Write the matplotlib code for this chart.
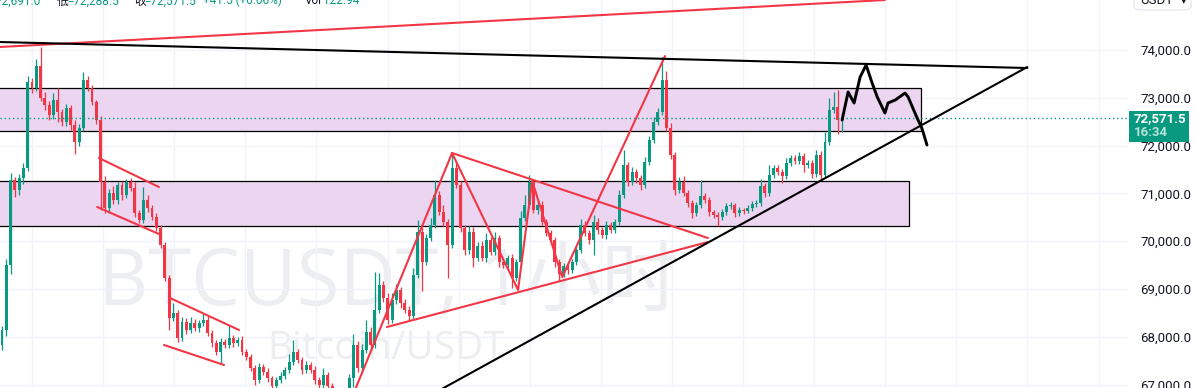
import matplotlib
matplotlib.use("Agg")
import matplotlib.pyplot as plt
from matplotlib.patches import Rectangle, FancyBboxPatch

# ---- data (1h candles, BTCUSDT) ----
first_open = 67830
close = [
    68140, 69500, 71280, 71070, 71320, 71530, 73330, 73200, 73670, 73000,
    72850, 72640, 72950, 72700, 72490, 72790, 72430, 72080, 72370, 73370,
    73200, 72910, 72540, 71240, 70700, 71010, 70860, 71180, 70970, 71240,
    71110, 70590, 70440, 70860, 70700, 70510, 70280, 69920, 69230, 68390,
    68500, 67980, 68310, 68140, 68290, 68180, 68290, 68350, 68080, 67870,
    67680, 67890, 67830, 67980, 67870, 67930, 67680, 67580, 67350, 67100,
    67370, 67260, 67140, 66970, 67100, 67180, 67310, 67470, 67680, 67520,
    67310, 67410, 67310, 67100, 66990, 67200, 66970, 66850, 66720, 66780,
    66680, 67140, 67830, 67350, 67720, 68100, 67830, 68560, 69080, 68810,
    68350, 68770, 68980, 68710, 68560, 68440, 69290, 70190, 69560, 70070,
    70340, 70970, 70610, 70400, 69920, 71530, 71180, 70280, 69820, 70190,
    69650, 69900, 69650, 70020, 69770, 70070, 69560, 69500, 69650, 69230,
    69560, 70490, 70760, 71240, 70650, 70760, 70400, 70170, 70020, 69560,
    69310, 69480, 69400, 69560, 69820, 70340, 70170, 70020, 70400, 70230,
    70130, 70340, 70230, 70400, 70970, 71590, 71240, 71450, 71320, 71180,
    71660, 72120, 72490, 72700, 73370, 72370, 71800, 71070, 71240, 71010,
    70800, 70590, 70760, 70950, 70860, 70610, 70550, 70510, 70610, 70740,
    70760, 70590, 70650, 70630, 70700, 70780, 70800, 71150, 71010, 71390,
    71530, 71450, 71360, 71640, 71740, 71680, 71780, 71590, 71640, 71410,
    71800, 71390, 72080, 72750, 72810, 72530, 72571.5,
]
wick_up = [
    80, 120, 150, 60, 90, 100, 120, 90, 150, 400,
    120, 80, 150, 250, 60, 80, 60, 100, 80, 170,
    90, 60, 40, 80, 120, 80, 150, 60, 80, 70,
    80, 120, 60, 270, 100, 60, 80, 60, 60, 60,
    200, 60, 100, 80, 120, 80, 60, 150, 80, 60,
    60, 80, 60, 270, 60, 60, 80, 60, 50, 60,
    80, 60, 80, 40, 60, 80, 60, 170, 250, 60,
    60, 80, 60, 80, 60, 150, 60, 60, 60, 60,
    60, 80, 220, 80, 120, 260, 100, 800, 250, 80,
    100, 150, 120, 60, 80, 80, 150, 250, 100, 80,
    150, 320, 80, 150, 60, 270, 150, 80, 60, 120,
    100, 80, 100, 150, 60, 120, 60, 60, 60, 80,
    60, 150, 200, 150, 60, 100, 80, 60, 60, 60,
    60, 60, 80, 60, 100, 120, 80, 60, 150, 80,
    60, 80, 60, 60, 100, 320, 60, 100, 60, 60,
    100, 80, 100, 80, 480, 200, 100, 60, 100, 130,
    60, 60, 60, 320, 60, 60, 40, 60, 60, 60,
    60, 40, 60, 40, 60, 60, 60, 150, 60, 200,
    60, 60, 60, 100, 60, 60, 80, 60, 60, 60,
    100, 80, 200, 250, 310, 350, 119.5,
]
wick_dn = [
    100, 120, 180, 150, 100, 120, 60, 100, 60, 60,
    100, 100, 80, 200, 80, 80, 100, 250, 80, 60,
    60, 60, 80, 590, 100, 100, 80, 80, 100, 60,
    60, 80, 60, 60, 80, 60, 60, 60, 60, 250,
    60, 80, 60, 80, 60, 60, 80, 60, 60, 80,
    60, 250, 60, 60, 80, 60, 60, 60, 60, 100,
    60, 60, 80, 60, 60, 60, 60, 60, 60, 60,
    80, 60, 60, 80, 60, 80, 60, 60, 60, 60,
    80, 60, 200, 80, 60, 60, 100, 60, 60, 80,
    80, 60, 80, 100, 60, 80, 60, 60, 600, 60,
    60, 60, 60, 80, 700, 60, 60, 80, 100, 80,
    200, 60, 60, 80, 60, 60, 100, 60, 80, 200,
    60, 60, 60, 60, 60, 80, 60, 60, 60, 100,
    140, 60, 80, 60, 60, 60, 60, 80, 300, 80,
    60, 80, 60, 60, 60, 60, 80, 60, 100, 100,
    60, 60, 60, 60, 60, 60, 80, 100, 60, 60,
    80, 100, 60, 60, 60, 80, 60, 200, 60, 60,
    60, 80, 60, 60, 40, 60, 60, 60, 80, 60,
    60, 60, 150, 60, 60, 60, 60, 150, 60, 80,
    60, 100, 60, 60, 60, 280, 241.5,
]
last_price = 72571.5
countdown = "16:34"
price_ticks = [67000, 68000, 69000, 70000, 71000, 72000, 73000, 74000]

# zones (price bottom, price top, right end bar)
zone_hi = (72305, 73205, 214.4)
zone_lo = (70318, 71260, 211.6)

# drawings: (bar index, price)
red_top = [(-0.5, 74063), (206.0, 75046)]
black_desc = [(-0.5, 74167), (239.2, 73623)]
black_asc = [(97.5, 66657), (239.2, 73644)]
flag1_up = [(22.6, 71741), (36.6, 71134)]
flag1_dn = [(22.2, 70716), (36.6, 70151)]
flag2_up = [(39.2, 68812), (55.3, 68142)]
flag2_dn = [(37.8, 67829), (51.8, 67410)]
zigzag = [(81.4, 66678), (105.0, 71845), (120.4, 68979), (123.7, 71260),
          (130.7, 69251), (154.7, 73874)]
tri_up = [(105.0, 71845), (164.7, 70067)]
tri_dn = [(89.8, 68205), (164.7, 69983)]
forecast = [(196.0, 72536), (197.4, 73121), (198.8, 72891), (200.2, 73435),
            (201.6, 73686), (203.0, 73310), (204.2, 73017), (206.0, 72682),
            (206.7, 72891), (208.4, 72954), (210.7, 73100), (211.4, 73017),
            (213.5, 72577), (214.6, 72368), (215.8, 72012)]

GREEN = "#089981"
RED = "#F23645"
W, H = 1195, 388

fig = plt.figure(figsize=(W / 100, H / 100), dpi=100)
ax = fig.add_axes([0, 0, 1128 / W, 1])
ax.set_xlim(-0.467, 262.7)
ax.set_ylim(66929, 75046)
for s in ax.spines.values():
    s.set_visible(False)

# grid
ax.set_yticks(price_ticks)
ax.set_yticklabels([f"{p:,.1f}" for p in price_ticks])
ax.yaxis.tick_right()
ax.tick_params(axis="y", length=0, pad=9, labelsize=9.5, labelcolor="#131722")
for lab in ax.get_yticklabels():
    lab.set_family("Roboto")
ax.set_xticks([(30 + 71.1 * k) / 4.286 for k in range(16)])
ax.tick_params(axis="x", length=0, labelbottom=False)
ax.grid(True, color="#f0f3fa", lw=1)
ax.set_axisbelow(True)

# watermark
ax.text(388 / 1128, 1 - 305 / H, "BTCUSDT, 1小时", transform=ax.transAxes,
        ha="center", va="baseline", fontsize=56, color="#eceef2",
        family=["Open Sans", "Noto Sans CJK SC"], zorder=0.5)
ax.text(386 / 1128, 1 - 359 / H, "Bitcoin/USDT", transform=ax.transAxes,
        ha="center", va="baseline", fontsize=28, color="#eceef2",
        family=["Open Sans", "Noto Sans CJK SC"], zorder=0.5)

# zones
for lo, hi, right in (zone_hi, zone_lo):
    ax.add_patch(Rectangle((-5, lo), right + 5, hi - lo, facecolor="#ebd5f0",
                           edgecolor="black", lw=0.9, zorder=1))

# candles
opens = [first_open] + close[:-1]
for i, (o, c, wu, wd) in enumerate(zip(opens, close, wick_up, wick_dn)):
    col = GREEN if c >= o else RED
    top, bot = max(o, c), min(o, c)
    ax.vlines(i, bot - wd, top + wu, color=col, lw=0.9, zorder=2)
    ax.bar(i, max(top - bot, 20), bottom=bot, width=0.68, color=col,
           lw=0, zorder=2)

# last price line
ax.axhline(last_price, color=GREEN, lw=1, ls=(0, (1, 2)), zorder=2)


def draw(pts, color, lw):
    xs, ys = zip(*pts)
    ax.plot(xs, ys, color=color, lw=lw, solid_capstyle="round", zorder=3)


draw(red_top, RED, 1.5)
for seg in (flag1_up, flag1_dn, flag2_up, flag2_dn, zigzag, tri_up, tri_dn):
    draw(seg, RED, 1.5)
draw(black_desc, "black", 1.5)
draw(black_asc, "black", 1.5)
draw(forecast, "black", 2.1)

# price tag on axis
yt = ax.get_yaxis_transform()
ax.add_patch(Rectangle((1129 / 1128, 72075), 60 / 1128, 72724 - 72075,
                       transform=yt, facecolor=GREEN, edgecolor="none",
                       clip_on=False, zorder=10))
ax.text(1134 / 1128, last_price, f"{last_price:,.1f}", transform=yt,
        color="white", fontsize=9.5, fontweight="bold", family="Roboto",
        va="center", ha="left", clip_on=False, zorder=11)
ax.text(1134 / 1128, 72264, countdown, transform=yt, color="#b8e3d9",
        fontsize=9.5, fontweight="bold", family="Roboto", va="center",
        ha="left", clip_on=False, zorder=11)

# currency button (top right, cut off)
fig.add_artist(FancyBboxPatch((1134 / W, 1 - 10 / H), 57 / W, 20 / H,
                              boxstyle="round,pad=0,rounding_size=0.008",
                              transform=fig.transFigure, facecolor="white",
                              edgecolor="#e0e3eb", lw=0.8))
fig.text(1140 / W, 1 - 1 / H, "USDT", fontsize=9.5, color="#131722",
         family="Roboto", va="center")
fig.text(1181 / W, 1 - 1 / H, "▾", fontsize=8, color="#131722", va="center")

# legend line at top (cut off)
legend = [(-4, "72,691.0", GREEN), (57, "低", "#131722"),
          (67, "=72,288.5", GREEN), (134, "收", "#131722"),
          (144, "=72,571.5", GREEN), (203, "+41.5 (+0.06%)", GREEN),
          (305, "Vol", "#131722"), (323, "122.94", GREEN)]
for xp, txt, col in legend:
    fig.text(xp / W, 1 - 4.5 / H, txt, fontsize=8.5, color=col,
             family=["Roboto", "Noto Sans CJK SC"], va="baseline")

fig.savefig("out.png", dpi=100)
